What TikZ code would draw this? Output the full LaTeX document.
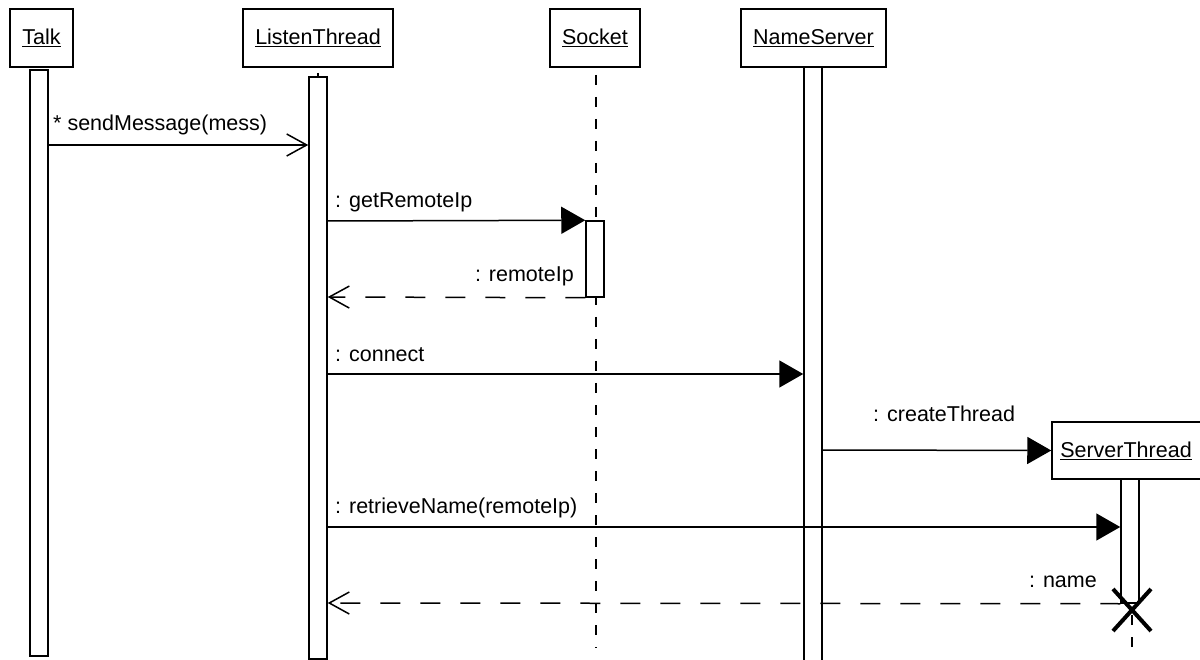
\documentclass[tikz,border=0pt]{standalone}
\usepackage{fontspec}
\setmainfont{Liberation Sans}
\usetikzlibrary{arrows.meta}
\begin{document}
\begin{tikzpicture}[x=1pt,y=-1pt,
  every node/.style={font=\fontsize{21.5}{25}\selectfont, inner sep=0pt},
  objbox/.style={draw, line width=1.5pt, fill=white, minimum height=58pt},
  actbar/.style={draw, line width=1.5pt, fill=white, minimum width=18pt},
  lifeline/.style={line width=1.5pt, dash pattern=on 10pt off 12pt},
  call/.style={line width=1.5pt, -{Triangle[length=24pt,width=27pt]}},
  async/.style={line width=1.5pt, -{Straight Barb[length=20pt,width=22pt]}},
  reply/.style={line width=1.5pt, dash pattern=on 20pt off 20pt, -{Straight Barb[length=20pt,width=22pt]}},
  msglabel/.style={anchor=base west},
  retlabel/.style={anchor=base east}]
\useasboundingbox (0,0) rectangle (1200,660);
\fill[white] (0,0) rectangle (1200,660);

% object headers
\node[objbox, minimum width=63pt]  (talk)   at (41.5,38) {\underline{Talk}};
\node[objbox, minimum width=150pt] (listen) at (318,38)  {\underline{ListenThread}};
\node[objbox, minimum width=90pt]  (socket) at (595,38)  {\underline{Socket}};
\node[objbox, minimum width=145pt] (names)  at (813.5,38) {\underline{NameServer}};

% lifelines
\coordinate (socktop) at (596,75);
\coordinate (sockend) at (596,648);
\draw[lifeline] (socktop) -- (sockend);
\coordinate (lstubA) at (318,73);
\coordinate (lstubB) at (318,77);
\draw[line width=1.5pt] (lstubA) -- (lstubB);

% activation bars
\node[actbar, minimum height=586pt] (talkbar)   at (39,363)  {};
\node[actbar, minimum height=582pt] (listenbar) at (318,368) {};
\node[actbar, minimum height=598pt] (namesbar)  at (813,366) {};
\node[actbar, minimum height=76pt]  (sockbar)   at (595,259) {};

% message rows
\coordinate (m1) at (0,145);
\coordinate (m2) at (0,221);
\coordinate (m3) at (0,297);
\coordinate (m4) at (0,374);
\coordinate (m5) at (0,450);
\coordinate (m6) at (0,527);
\coordinate (m7) at (0,603);

% created object
\node[objbox, minimum width=156pt, minimum height=57pt] (server) at (1130,450.5) {\hspace*{-8pt}\underline{ServerThread}};
\coordinate (servend) at (1132,647);
\coordinate (servtop) at (1132,480);
\draw[lifeline] (servend) -- (servtop);
\node[actbar, minimum height=124pt] (serverbar) at (1130,541) {};

% messages
\draw[async] (talkbar.east |- m1) -- (listenbar.west |- m1);
\node[msglabel] (l1) at (53,131) {* sendMessage(mess)};

\draw[call] (listenbar.east |- m2) -- (sockbar.north west);
\node[msglabel] (l2) at (335,208) {: getRemoteIp};

\draw[reply] (sockbar.south west) -- (listenbar.east |- m3);
\node[retlabel] (l3) at (574,282) {: remoteIp};

\draw[call] (listenbar.east |- m4) -- (namesbar.west |- m4);
\node[msglabel] (l4) at (335,362) {: connect};

\draw[call] (namesbar.east |- m5) -- (server.west);
\node[msglabel] (l5) at (873,421) {: createThread};

\draw[call] (listenbar.east |- m6) -- (serverbar.west |- m6);
\node[msglabel] (l6) at (335,513) {: retrieveName(remoteIp)};

\draw[reply] (serverbar.south west) -- (listenbar.east |- m7);
\node[retlabel] (l7) at (1097,587) {: name};

% destruction mark
\coordinate (kill) at (1132,610);
\draw[line width=4pt] (kill) ++(-19,-21) -- ++(38,42);
\draw[line width=4pt] (kill) ++(-19,21) -- ++(38,-42);
\end{tikzpicture}
\end{document}
